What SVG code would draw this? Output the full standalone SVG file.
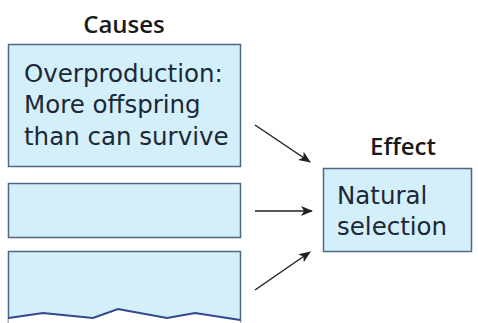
<svg xmlns="http://www.w3.org/2000/svg" width="478" height="323" viewBox="0 0 478 323">
<defs>
<style>
.box{fill:#d3f0fa;stroke:#4d6784;stroke-width:1.5}
.t{font-family:"DejaVu Sans",sans-serif;fill:#1c2838;font-size:24.5px}
.h{font-family:"Open Sans","Noto Sans",sans-serif;fill:#1a1a1a;font-size:24px;font-weight:600}
.c{stroke:#222;stroke-width:1.5;fill:none;marker-end:url(#ah)}
</style>
<marker id="ah" viewBox="0 0 12 10" refX="11" refY="5" markerWidth="13" markerHeight="10" markerUnits="userSpaceOnUse" orient="auto">
<path d="M0,0 L12,5 L0,10 L3,5 Z" fill="#222"/>
</marker>
</defs>
<rect width="478" height="323" fill="#fff"/>
<text class="h" x="124" y="33" text-anchor="middle">Causes</text>
<text class="h" x="403" y="155" text-anchor="middle">Effect</text>
<g id="cause1">
<rect class="box" x="8.5" y="44.5" width="232" height="122"/>
<text class="t" x="24" y="82">Overproduction:</text>
<text class="t" x="24" y="113">More offspring</text>
<text class="t" x="24" y="145">than can survive</text>
</g>
<g id="cause2">
<rect class="box" x="8.5" y="183.5" width="232" height="54"/>
</g>
<g id="cause3">
<path class="box" d="M8.5,323 L8.5,251.5 L240.5,251.5 L240.5,323"/>
<path d="M8.5,319 L43,314 L93,319 L118,310 L167,319 L195,314 L240.5,321 L240.5,323 L8.5,323 Z" fill="#fff"/>
<path d="M8.5,318 L43,313 L93,318 L118,309 L167,318 L195,313 L240.5,320" fill="none" stroke="#34488e" stroke-width="2"/>
</g>
<g id="effect">
<rect class="box" x="323.5" y="168.5" width="148" height="83"/>
<text class="t" x="337" y="204">Natural</text>
<text class="t" x="337" y="235">selection</text>
</g>
<g id="connectors">
<line class="c" x1="255" y1="125" x2="310" y2="162"/>
<line class="c" x1="255" y1="211" x2="312" y2="211"/>
<line class="c" x1="255" y1="290" x2="310" y2="252"/>
</g>
</svg>
